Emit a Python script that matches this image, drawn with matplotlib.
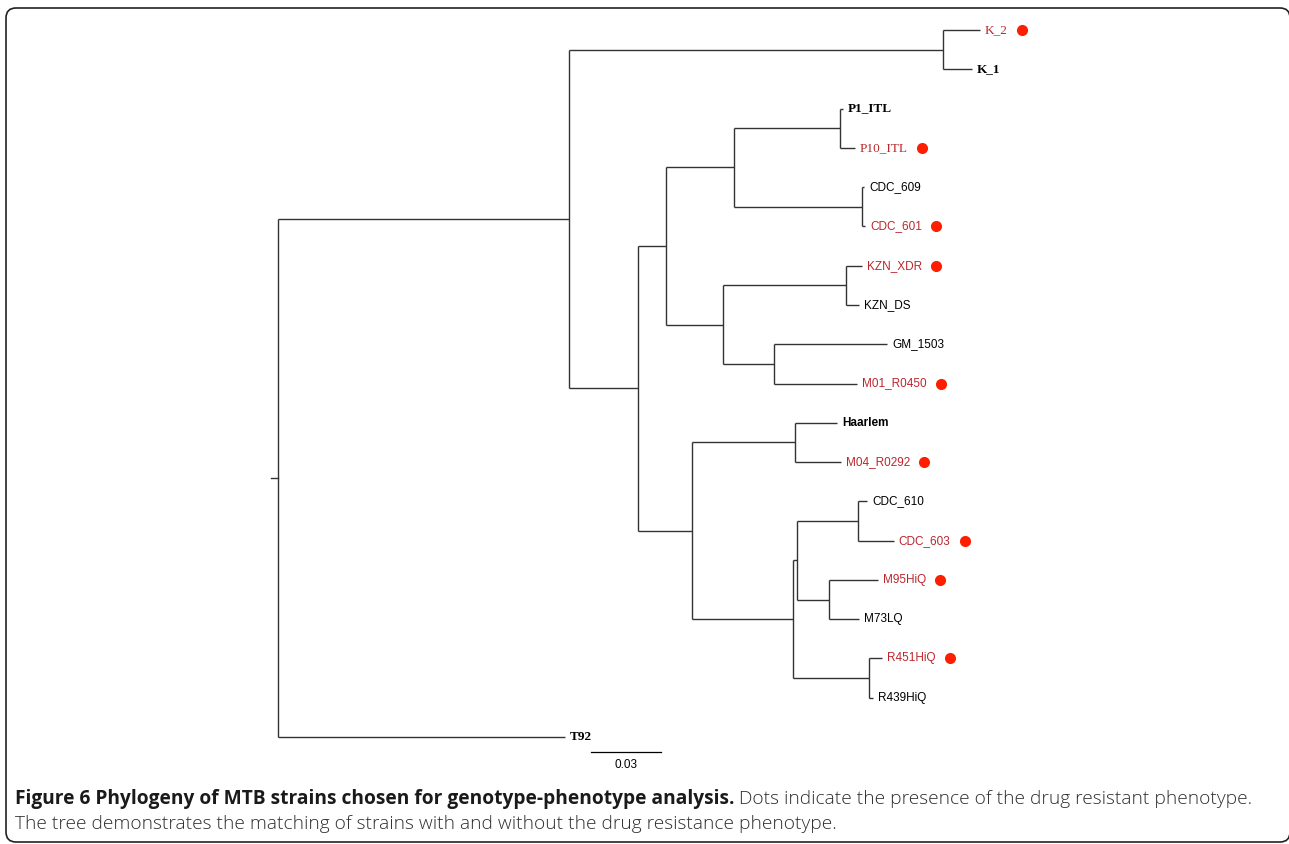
import matplotlib
matplotlib.use('Agg')
import matplotlib.pyplot as plt
import matplotlib.transforms as mtransforms
from matplotlib.patches import FancyBboxPatch

# tree data (branch lengths in substitutions/site)
node_names = ['root', 'A', 'K', 'B', 'C', 'D', 'P', 'CDC6', 'E', 'KZN', 'GM',
              'F', 'HA', 'G', 'H', 'CDC61', 'M', 'R']
node_parent = [None, 'root', 'A', 'A', 'B', 'C', 'D', 'D', 'C', 'E', 'E',
               'B', 'F', 'F', 'G', 'H', 'H', 'G']
node_branch = [0.0, 0.1247, 0.1603, 0.0296, 0.0120, 0.0291, 0.0454, 0.0549,
               0.0244, 0.0527, 0.0219, 0.0231, 0.0441, 0.0433, 0.0017, 0.0261,
               0.0137, 0.0326]

leaves = ['K_2', 'K_1', 'P1_ITL', 'P10_ITL', 'CDC_609', 'CDC_601', 'KZN_XDR',
          'KZN_DS', 'GM_1503', 'M01_R0450', 'Haarlem', 'M04_R0292', 'CDC_610',
          'CDC_603', 'M95HiQ', 'M73LQ', 'R451HiQ', 'R439HiQ', 'T92']
leaf_parent = ['K', 'K', 'P', 'P', 'CDC6', 'CDC6', 'KZN', 'KZN', 'GM', 'GM',
               'HA', 'HA', 'CDC61', 'CDC61', 'M', 'M', 'R', 'R', 'root']
leaf_branch = [0.0159, 0.0124, 0.0013, 0.0064, 0.0009, 0.0013, 0.0069, 0.0056,
               0.0484, 0.0356, 0.0180, 0.0197, 0.0039, 0.0154, 0.0210, 0.0129,
               0.0056, 0.0017, 0.1230]
resistant = [1, 0, 0, 1, 0, 1, 1, 0, 0, 1, 0, 1, 0, 1, 1, 0, 1, 0, 0]

serif_leaves = ['K_2', 'K_1', 'P1_ITL', 'P10_ITL', 'T92']
bold_leaves = ['K_1', 'P1_ITL', 'T92', 'Haarlem']

scale_len = 0.03
scale_label = '0.03'

caption_bold = 'Figure 6 Phylogeny of MTB strains chosen for genotype-phenotype analysis.'
caption_rest = ' Dots indicate the presence of the drug resistant phenotype.'
caption_line2 = 'The tree demonstrates the matching of strains with and without the drug resistance phenotype.'

W, H = 1289, 844
fig = plt.figure(figsize=(W / 100, H / 100), dpi=100)
# pixel coords, origin top-left
pix = mtransforms.Affine2D().scale(1 / W, -1 / H).translate(0, 1) + fig.transFigure

# axes spanning the whole figure; x = distance, y = leaf index
px_per_unit = 70 / 0.03
x0_pix, y0_pix, dy_pix = 278, 30, 39.28
ax = fig.add_axes([0, 0, 1, 1])
ax.set_xlim(-x0_pix / px_per_unit, (W - x0_pix) / px_per_unit)
ax.set_ylim((H - y0_pix) / dy_pix, -y0_pix / dy_pix)
ax.axis('off')

# cumulative depth of the internal nodes
depth = {}
for n, p, b in zip(node_names, node_parent, node_branch):
    depth[n] = 0.0 if p is None else depth[p] + b

# y of leaves, then internal nodes as mid of their children
ypos = {name: i for i, name in enumerate(leaves)}
children = {n: [] for n in node_names}
for n, p in zip(node_names, node_parent):
    if p is not None:
        children[p].append(n)
for lf, p in zip(leaves, leaf_parent):
    children[p].append(lf)
leaf_x = {lf: depth[p] + b for lf, p, b in zip(leaves, leaf_parent, leaf_branch)}

def get_y(n):
    if n in ypos:
        return ypos[n]
    ys = [get_y(c) for c in children[n]]
    ypos[n] = (min(ys) + max(ys)) / 2
    return ypos[n]

get_y('root')

lc = '#333333'
lw = 1.0
for n in node_names:
    ys = [ypos[c] for c in children[n]]
    ax.plot([depth[n], depth[n]], [min(ys), max(ys)], color=lc, lw=lw,
            solid_capstyle='butt')
    for c in children[n]:
        cx = leaf_x[c] if c in leaf_x else depth[c]
        ax.plot([depth[n], cx], [ypos[c], ypos[c]], color=lc, lw=lw,
                solid_capstyle='butt')
# root stub
ax.plot([-0.003, 0], [ypos['root'], ypos['root']], color=lc, lw=lw)

# leaf labels
label_objs = []
for i, lf in enumerate(leaves):
    col = '#bb262c' if resistant[i] else 'black'
    if lf in serif_leaves:
        fam, fs = 'Liberation Serif', 9.5
    else:
        fam, fs = 'Liberation Sans', 8.5
    fw = 'bold' if lf in bold_leaves else 'normal'
    t = ax.annotate(lf, (leaf_x[lf], ypos[lf]), xytext=(5, 0),
                    textcoords='offset pixels', ha='left', va='center',
                    fontsize=fs, family=fam, fontweight=fw, color=col)
    label_objs.append(t)

# red dots after the resistant labels
fig.canvas.draw()
r = fig.canvas.get_renderer()
for i, t in enumerate(label_objs):
    if resistant[i]:
        bb = t.get_window_extent(r)
        xd = bb.x1 + 14
        yd = (bb.y0 + bb.y1) / 2
        ax.plot([xd], [yd], 'o', color='#ff1e00', markersize=8,
                markeredgewidth=0, transform=None)

# scale bar
ax.plot([591, 661], [752, 752], color='black', lw=0.9, transform=pix)
ax.text(626, 765, scale_label, ha='center', va='center', fontsize=8.5,
        family='Liberation Sans', transform=pix)

# frame with rounded corners
frame = FancyBboxPatch((6, 8), 1284, 834, boxstyle='round,pad=0,rounding_size=10',
                       transform=pix, fill=False, edgecolor='#222222', lw=1.2,
                       clip_on=False)
fig.add_artist(frame)

# caption
cap_fs = 13.75
t1 = fig.text(15, 804, caption_bold, transform=pix, family='Open Sans',
              fontweight='bold', fontsize=cap_fs, color='#1a1a1a', va='baseline')
fig.canvas.draw()
bb = t1.get_window_extent(r)
fig.text(bb.x1 / W, 1 - 804 / H, caption_rest, family='Open Sans',
         fontweight='light', fontsize=cap_fs, color='#2e2e2e', va='baseline')
fig.text(15, 829, caption_line2, transform=pix, family='Open Sans',
         fontweight='light', fontsize=cap_fs, color='#2e2e2e', va='baseline')

fig.savefig('out.png', dpi=100)
